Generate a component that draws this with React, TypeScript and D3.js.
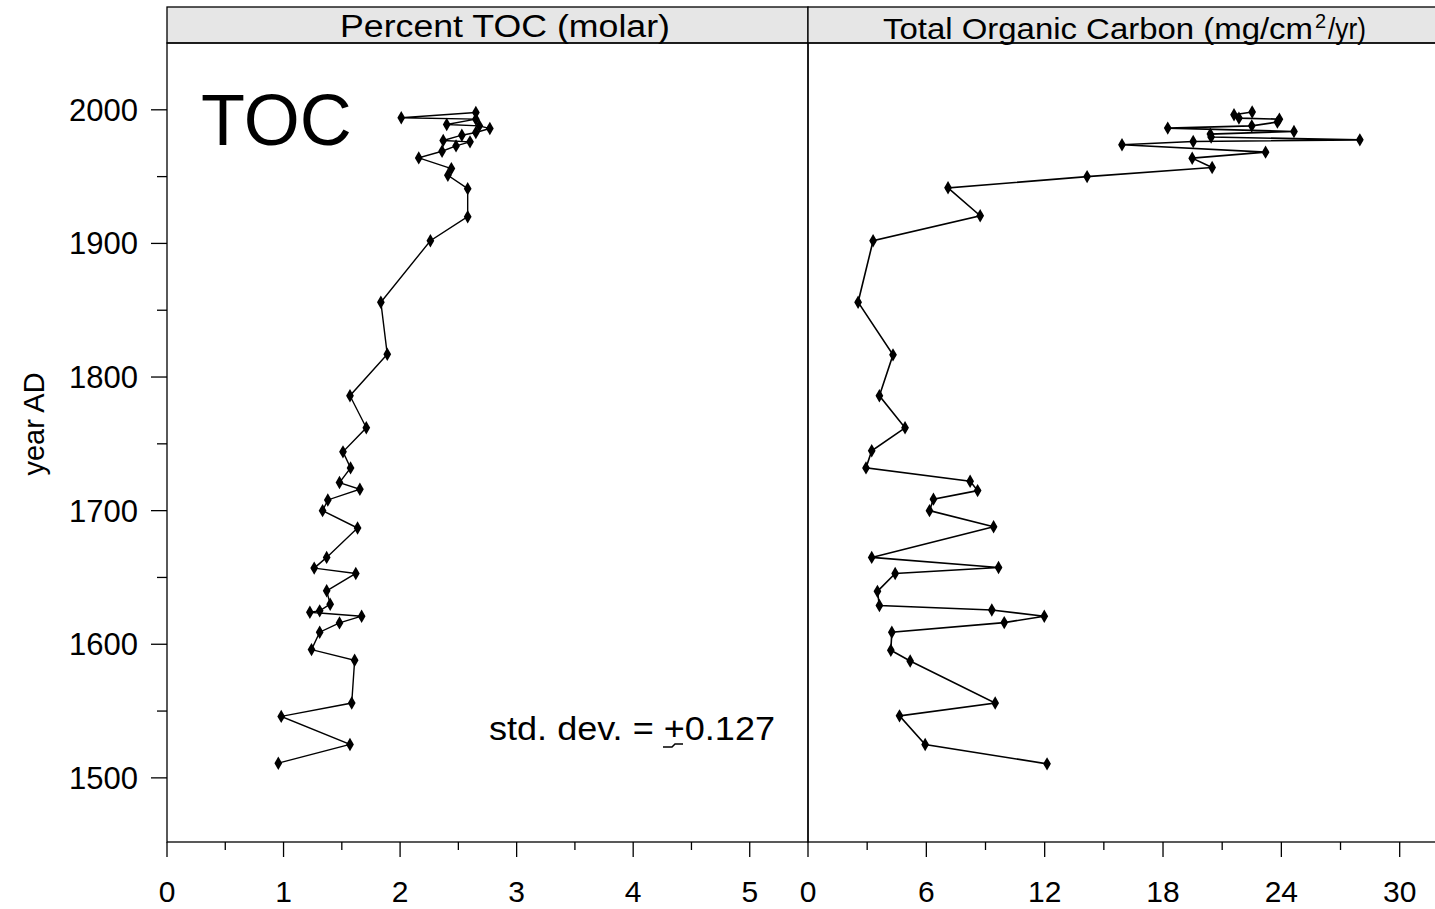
import React from "react";
import * as d3 from "d3";

// ---- data ----
const tocYears = [1998, 1994, 1993, 1989, 1988, 1986, 1983, 1981, 1977, 1976, 1973, 1969, 1964, 1956, 1951, 1941, 1920, 1902, 1856, 1817, 1786, 1762, 1744, 1732, 1721, 1716, 1708, 1700, 1687, 1665, 1657, 1653, 1640, 1630, 1625, 1624, 1621, 1616, 1609, 1596, 1588, 1556, 1546, 1525, 1511];
const tocPercent = [2.65, 2.01, 2.65, 2.40, 2.68, 2.77, 2.65, 2.53, 2.37, 2.60, 2.48, 2.36, 2.16, 2.44, 2.41, 2.58, 2.58, 2.26, 1.835, 1.89, 1.57, 1.71, 1.51, 1.575, 1.48, 1.655, 1.38, 1.335, 1.635, 1.37, 1.263, 1.62, 1.37, 1.40, 1.31, 1.226, 1.67, 1.48, 1.31, 1.24, 1.61, 1.585, 0.98, 1.57, 0.955];

const fluxYears = [1998.3, 1996.3, 1993.8, 1993, 1990.8, 1988, 1986.3, 1983.8, 1981.8, 1979.6, 1977.5, 1976.3, 1973.8, 1968.3, 1963.8, 1956.8, 1950, 1941.6, 1920.7, 1902, 1856, 1816.6, 1786, 1762, 1744.8, 1732, 1722, 1715, 1708.6, 1700, 1688, 1665, 1657.4, 1653, 1639.6, 1629, 1625.6, 1621, 1616.2, 1609, 1595.5, 1587.5, 1556, 1546.4, 1525, 1510.5];
const fluxValues = [22.52, 21.6, 21.85, 23.9, 23.8, 22.5, 18.24, 24.64, 20.4, 20.44, 27.98, 19.53, 15.92, 23.2, 19.48, 20.49, 14.15, 7.1, 8.73, 3.3, 2.54, 4.31, 3.62, 4.92, 3.23, 2.94, 8.22, 8.6, 6.36, 6.16, 9.41, 3.23, 9.66, 4.42, 3.52, 3.62, 9.32, 11.98, 9.95, 4.25, 4.2, 5.18, 9.49, 4.64, 5.94, 12.12];

const yearTicks = [1500, 1600, 1700, 1800, 1900, 2000];
const yearMinor = [1550, 1650, 1750, 1850, 1950];
const tocTicks = [0, 1, 2, 3, 4, 5];
const tocMinor = [0.5, 1.5, 2.5, 3.5, 4.5];
const fluxTicks = [0, 6, 12, 18, 24, 30];
const fluxMinor = [3, 9, 15, 21, 27];

const FONT = "'Liberation Sans', Arial, Helvetica, sans-serif";

export default function App() {
  const W = 1435, H = 909;
  const top = 7, stripH = 36, bottom = 842;
  const left = 167, mid = 808, right = 1449;

  const y = d3.scaleLinear().domain([1452, 2050]).range([bottom, top + stripH]);
  const x1 = d3.scaleLinear().domain([0, 5.5]).range([left, mid]);
  const x2 = d3.scaleLinear().domain([0, 32.5]).range([mid, right]);

  const line1 = d3.line<number>().x((_, i) => x1(tocPercent[i])).y((_, i) => y(tocYears[i]));
  const line2 = d3.line<number>().x((_, i) => x2(fluxValues[i])).y((_, i) => y(fluxYears[i]));

  const marker = d3.symbol().type(d3.symbolDiamond).size(52)() as string;

  const frame = (x0: number, x1e: number) => (
    <g>
      <rect x={x0} y={top} width={x1e - x0} height={stripH} fill="#e6e6e6" stroke="#000" strokeWidth={1.3} />
      <rect x={x0} y={top + stripH} width={x1e - x0} height={bottom - top - stripH} fill="none" stroke="#000" strokeWidth={1.3} />
    </g>
  );

  return (
    <svg width={W} height={H} style={{ position: "absolute", left: 0, top: 0, background: "#fff" }}>
      <rect x={0} y={0} width={W} height={H} fill="#fff" />
      {frame(left, mid)}
      {frame(mid, right)}
      <text x={340} y={37} textLength={330} lengthAdjust="spacingAndGlyphs" fontFamily={FONT} fontSize={31} fill="#000">Percent TOC (molar)</text>
      <text x={883} y={39} textLength={430} lengthAdjust="spacingAndGlyphs" fontFamily={FONT} fontSize={30} fill="#000">Total Organic Carbon (mg/cm</text>
      <text x={1315} y={28} fontFamily={FONT} fontSize={20} fill="#000">2</text>
      <text x={1328} y={39} textLength={38} lengthAdjust="spacingAndGlyphs" fontFamily={FONT} fontSize={30} fill="#000">/yr)</text>

      {/* y axis */}
      {yearTicks.map((t) => (
        <g key={"yt" + t}>
          <line x1={left - 16} x2={left} y1={y(t)} y2={y(t)} stroke="#000" strokeWidth={1.3} />
          <text x={138} y={y(t) + 11} textAnchor="end" fontFamily={FONT} fontSize={31} fill="#000">{t}</text>
        </g>
      ))}
      {yearMinor.map((t) => (
        <line key={"ym" + t} x1={left - 10} x2={left} y1={y(t)} y2={y(t)} stroke="#000" strokeWidth={1.3} />
      ))}
      <text transform={`translate(44,${424}) rotate(-90)`} textAnchor="middle" fontFamily={FONT} fontSize={29} fill="#000">year AD</text>

      {/* x axes */}
      {tocTicks.map((t) => (
        <g key={"xt1" + t}>
          <line x1={x1(t)} x2={x1(t)} y1={bottom} y2={bottom + 15} stroke="#000" strokeWidth={1.3} />
          <text x={x1(t)} y={bottom + 60} textAnchor="middle" fontFamily={FONT} fontSize={30} fill="#000">{t}</text>
        </g>
      ))}
      {tocMinor.map((t) => (
        <line key={"xm1" + t} x1={x1(t)} x2={x1(t)} y1={bottom} y2={bottom + 8} stroke="#000" strokeWidth={1.3} />
      ))}
      {fluxTicks.map((t) => (
        <g key={"xt2" + t}>
          <line x1={x2(t)} x2={x2(t)} y1={bottom} y2={bottom + 15} stroke="#000" strokeWidth={1.3} />
          <text x={x2(t)} y={bottom + 60} textAnchor="middle" fontFamily={FONT} fontSize={30} fill="#000">{t}</text>
        </g>
      ))}
      {fluxMinor.map((t) => (
        <line key={"xm2" + t} x1={x2(t)} x2={x2(t)} y1={bottom} y2={bottom + 8} stroke="#000" strokeWidth={1.3} />
      ))}

      {/* data */}
      <path d={line1(tocPercent) || ""} fill="none" stroke="#000" strokeWidth={1.4} />
      {tocPercent.map((v, i) => (
        <g key={"p1" + i} transform={`translate(${x1(v)},${y(tocYears[i])})`}>
          <path d={marker} fill="#000" />
          <circle r={2.6} fill="#000" />
        </g>
      ))}
      <path d={line2(fluxValues) || ""} fill="none" stroke="#000" strokeWidth={1.6} />
      {fluxValues.map((v, i) => (
        <g key={"p2" + i} transform={`translate(${x2(v)},${y(fluxYears[i])})`}>
          <path d={marker} fill="#000" />
          <circle r={2.8} fill="#000" />
        </g>
      ))}

      {/* annotations */}
      <text x={201} y={145} fontFamily={FONT} fontSize={72} fill="#000">TOC</text>
      <text x={489} y={740} textLength={286} lengthAdjust="spacingAndGlyphs" fontFamily={FONT} fontSize={33} fill="#000">std. dev. = +0.127</text>
      <path d="M663,747 L672,747 L675,744 L683,744" fill="none" stroke="#000" strokeWidth={1.5} />
    </svg>
  );
}
